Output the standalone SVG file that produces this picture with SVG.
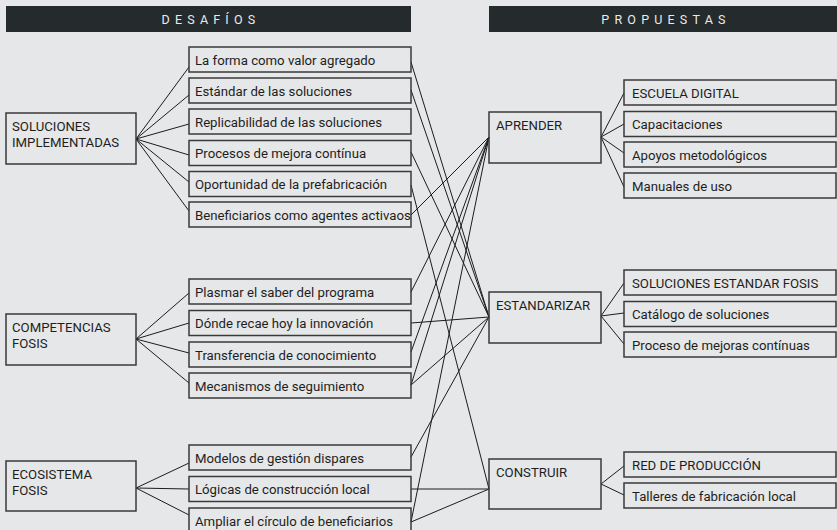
<svg xmlns="http://www.w3.org/2000/svg" width="837" height="530" viewBox="0 0 837 530">
<style>
.bg{fill:#e6e7e8}
.hdr{fill:#252a2c}
.ht{font-family:Roboto,"Liberation Sans",sans-serif;font-size:12.5px;fill:#e9eaeb;letter-spacing:5.2px;text-anchor:middle}
.box{fill:none;stroke:#3a3a3a;stroke-width:1.5}
.t{font-family:Roboto,"Liberation Sans",sans-serif;font-size:13.2px;fill:#1e1e1e}
.c{fill:none;stroke:#1c1c1c;stroke-width:1}
</style>
<rect class="bg" x="0" y="0" width="837" height="530"/>
<g id="hdr-desafios"><rect class="hdr" x="6" y="6" width="405" height="26"/><text class="ht" x="211" y="24">DESAFÍOS</text></g>
<g id="hdr-propuestas"><rect class="hdr" x="489" y="6" width="348" height="26"/><text class="ht" x="666" y="24">PROPUESTAS</text></g>

<g id="connectors">
<path class="c" d="M136 139L189 67M136 139L189 95M136 139L189 124M136 139L189 155M136 139L189 182M136 139L189 211"/>
<path class="c" d="M136 339L189 293M136 339L189 323M136 339L189 353M136 339L189 383"/>
<path class="c" d="M136 488L189 463M136 488L189 489M136 488L189 515"/>
<path class="c" d="M411 62L489 317M411 90L489 317M411 152L489 317M411 185L489 489M411 215L489 137M411 292L489 137M411 323L489 317M411 352L489 137M411 385L489 137M411 385L489 317M411 457L489 317M411 489L489 489M411 522L489 137M411 522L489 489"/>
<path class="c" d="M601 137L624 93M601 137L624 124M601 137L624 153M601 137L624 187"/>
<path class="c" d="M601 316L624 283M601 316L624 313M601 316L624 344"/>
<path class="c" d="M601 484L624 466M601 484L624 495"/>
</g>

<g id="soluciones-implementadas"><rect class="box" x="6" y="113" width="130" height="51"/><text class="t" x="12" y="131">SOLUCIONES</text><text class="t" x="12" y="147">IMPLEMENTADAS</text></g>
<g id="competencias-fosis"><rect class="box" x="6" y="314" width="130" height="51"/><text class="t" x="12" y="332">COMPETENCIAS</text><text class="t" x="12" y="348">FOSIS</text></g>
<g id="ecosistema-fosis"><rect class="box" x="6" y="461" width="130" height="50"/><text class="t" x="12" y="479">ECOSISTEMA</text><text class="t" x="12" y="495">FOSIS</text></g>

<g id="d-forma"><rect class="box" x="189" y="47" width="222" height="25"/><text class="t" x="195" y="64.5">La forma como valor agregado</text></g>
<g id="d-estandar"><rect class="box" x="189" y="78" width="222" height="25"/><text class="t" x="195" y="95.5">Estándar de las soluciones</text></g>
<g id="d-replicabilidad"><rect class="box" x="189" y="109" width="222" height="25"/><text class="t" x="195" y="126.5">Replicabilidad de las soluciones</text></g>
<g id="d-procesos"><rect class="box" x="189" y="140.5" width="222" height="25"/><text class="t" x="195" y="158">Procesos de mejora contínua</text></g>
<g id="d-oportunidad"><rect class="box" x="189" y="171.5" width="222" height="25"/><text class="t" x="195" y="189">Oportunidad de la prefabricación</text></g>
<g id="d-beneficiarios"><rect class="box" x="189" y="202" width="222" height="25"/><text class="t" x="195" y="219.5">Beneficiarios como agentes activaos</text></g>
<g id="d-plasmar"><rect class="box" x="189" y="279" width="222" height="25"/><text class="t" x="195" y="296.5">Plasmar el saber del programa</text></g>
<g id="d-donde"><rect class="box" x="189" y="310.5" width="222" height="25"/><text class="t" x="195" y="328">Dónde recae hoy la innovación</text></g>
<g id="d-transferencia"><rect class="box" x="189" y="342" width="222" height="25"/><text class="t" x="195" y="359.5">Transferencia de conocimiento</text></g>
<g id="d-mecanismos"><rect class="box" x="189" y="373" width="222" height="25"/><text class="t" x="195" y="390.5">Mecanismos de seguimiento</text></g>
<g id="d-modelos"><rect class="box" x="189" y="445" width="222" height="25"/><text class="t" x="195" y="462.5">Modelos de gestión dispares</text></g>
<g id="d-logicas"><rect class="box" x="189" y="476.5" width="222" height="25"/><text class="t" x="195" y="494">Lógicas de construcción local</text></g>
<g id="d-ampliar"><rect class="box" x="189" y="508" width="222" height="25"/><text class="t" x="195" y="525.5">Ampliar el círculo de beneficiarios</text></g>

<g id="aprender"><rect class="box" x="489" y="112" width="112" height="51"/><text class="t" x="496" y="130">APRENDER</text></g>
<g id="estandarizar"><rect class="box" x="489" y="292" width="112" height="51"/><text class="t" x="496" y="310">ESTANDARIZAR</text></g>
<g id="construir"><rect class="box" x="489" y="459" width="112" height="50"/><text class="t" x="496" y="477">CONSTRUIR</text></g>

<g id="p-escuela"><rect class="box" x="624" y="80" width="212" height="25"/><text class="t" x="632" y="97.5">ESCUELA DIGITAL</text></g>
<g id="p-capacitaciones"><rect class="box" x="624" y="111.5" width="212" height="25"/><text class="t" x="632" y="129">Capacitaciones</text></g>
<g id="p-apoyos"><rect class="box" x="624" y="142" width="212" height="25"/><text class="t" x="632" y="159.5">Apoyos metodológicos</text></g>
<g id="p-manuales"><rect class="box" x="624" y="173" width="212" height="25"/><text class="t" x="632" y="190.5">Manuales de uso</text></g>
<g id="p-soluciones"><rect class="box" x="624" y="270" width="212" height="25"/><text class="t" x="632" y="287.5">SOLUCIONES ESTANDAR FOSIS</text></g>
<g id="p-catalogo"><rect class="box" x="624" y="301.5" width="212" height="25"/><text class="t" x="632" y="319">Catálogo de soluciones</text></g>
<g id="p-proceso"><rect class="box" x="624" y="332" width="212" height="25"/><text class="t" x="632" y="349.5">Proceso de mejoras contínuas</text></g>
<g id="p-red"><rect class="box" x="624" y="452" width="212" height="25"/><text class="t" x="632" y="469.5">RED DE PRODUCCIÓN</text></g>
<g id="p-talleres"><rect class="box" x="624" y="483" width="212" height="25"/><text class="t" x="632" y="500.5">Talleres de fabricación local</text></g>
</svg>
